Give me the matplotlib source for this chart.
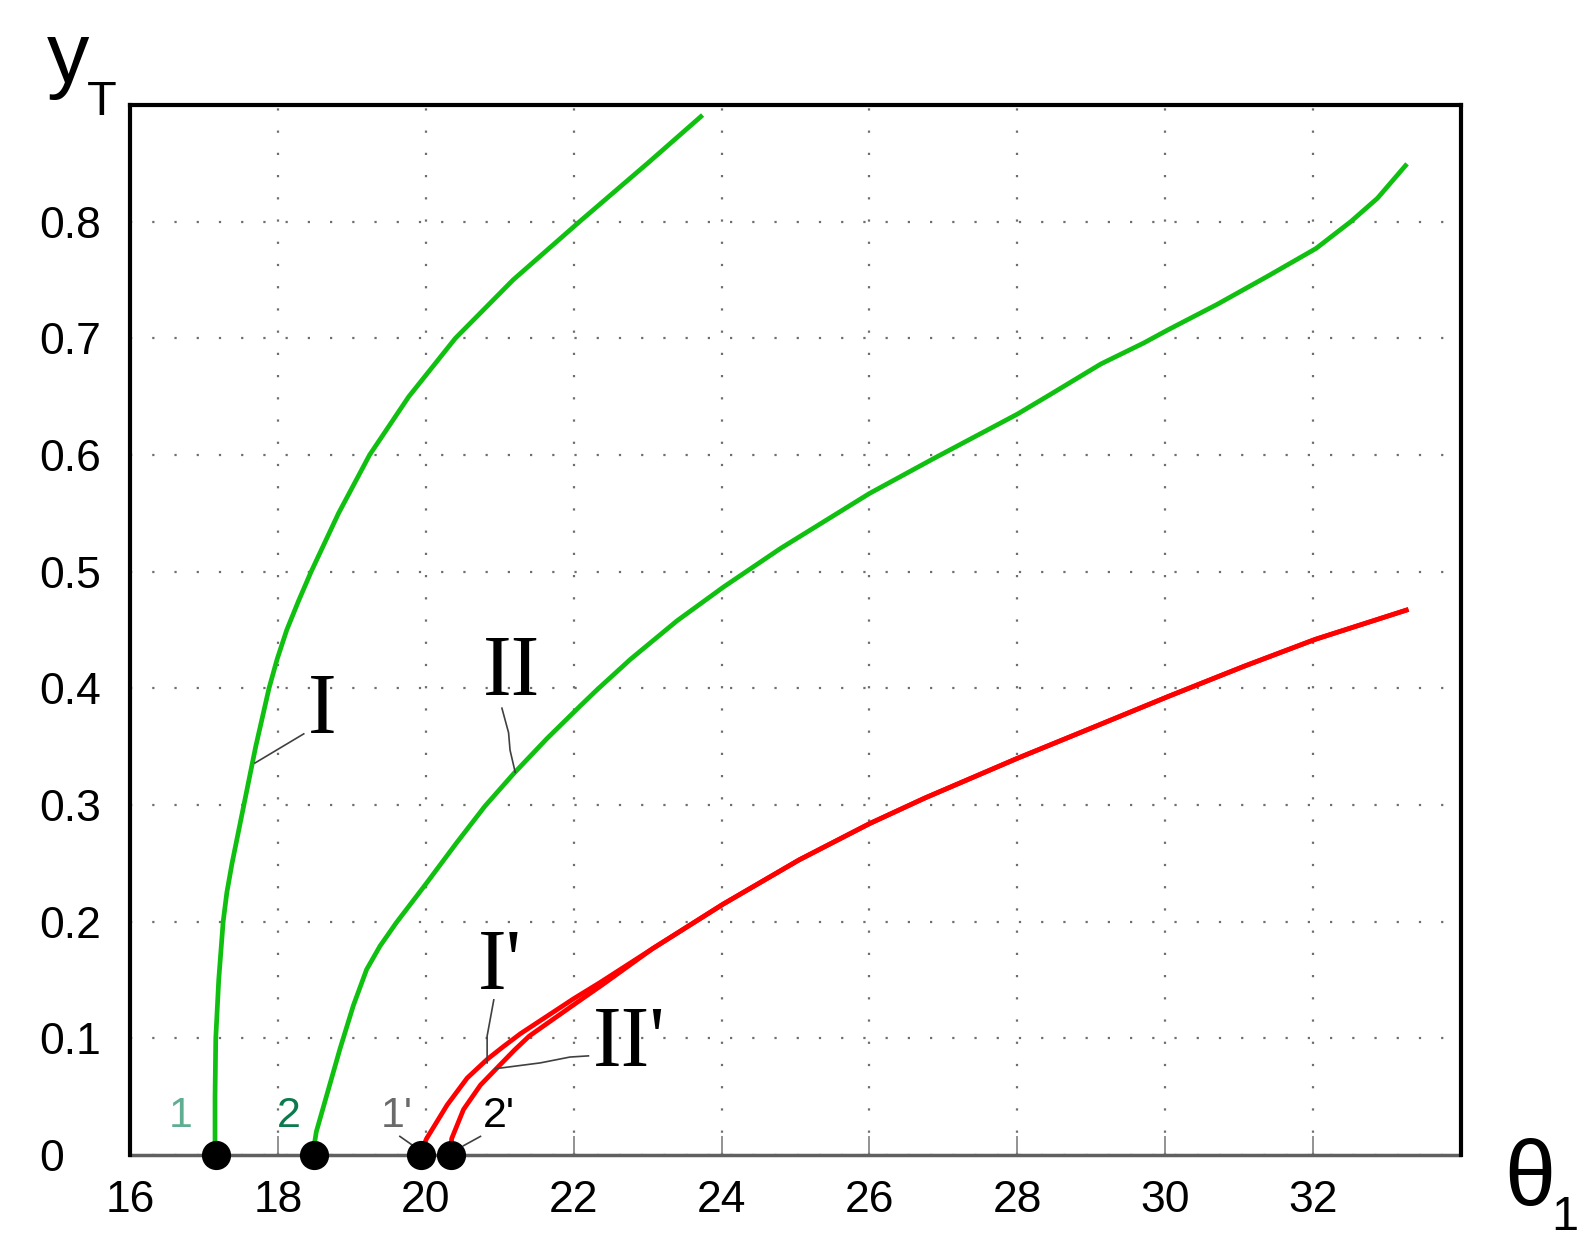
import matplotlib
matplotlib.use('Agg')
import matplotlib.pyplot as plt

# curve I (green)
I_x = [17.15, 17.15, 17.16, 17.20, 17.26, 17.31, 17.38, 17.46, 17.54, 17.62, 17.70, 17.79, 17.88,
       17.99, 18.12, 18.28, 18.45, 18.82, 19.24, 19.77, 20.40, 21.18, 22.08, 23.00, 23.72]
I_y = [0.000, 0.050, 0.100, 0.150, 0.200, 0.225, 0.250, 0.275, 0.300, 0.325, 0.350, 0.375, 0.400,
       0.425, 0.450, 0.475, 0.500, 0.550, 0.600, 0.650, 0.700, 0.750, 0.800, 0.850, 0.890]

# curve II (green)
II_x = [18.47, 18.52, 18.84, 19.02, 19.20, 19.38, 19.60, 20.01, 20.41, 20.80, 21.19, 21.64, 22.09, 22.32,
        22.77, 23.40, 24.03, 24.80, 26.00, 26.87, 28.00, 28.45, 29.13, 29.71, 30.03, 30.70, 31.38, 32.04,
        32.51, 32.87, 33.25]
II_y = [0.000, 0.020, 0.091, 0.128, 0.159, 0.179, 0.199, 0.233, 0.267, 0.299, 0.327, 0.357, 0.385, 0.399,
        0.425, 0.458, 0.487, 0.520, 0.567, 0.597, 0.635, 0.652, 0.678, 0.696, 0.707, 0.729, 0.753, 0.777,
        0.800, 0.820, 0.848]

# curves I' and II' (red)
Ip_x = [19.92, 20.01, 20.29, 20.56, 20.83, 21.05, 21.28, 22.00, 22.36, 23.07, 24.02, 25.05, 26.00,
        26.75, 28.00, 29.08, 30.04, 31.07, 32.03, 33.26]
Ip_y = [0.000, 0.014, 0.043, 0.066, 0.082, 0.093, 0.104, 0.134, 0.148, 0.177, 0.215, 0.253, 0.284,
        0.306, 0.340, 0.368, 0.393, 0.419, 0.442, 0.467]
IIp_x = [20.34, 20.35, 20.51, 20.74, 21.00, 21.20, 21.40, 22.05, 22.39, 23.07, 24.02, 25.05, 26.00,
         26.75, 28.00, 29.08, 30.04, 31.07, 32.03, 33.26]
IIp_y = [0.000, 0.014, 0.039, 0.060, 0.077, 0.090, 0.102, 0.131, 0.146, 0.177, 0.215, 0.253, 0.284,
         0.306, 0.340, 0.368, 0.393, 0.419, 0.442, 0.467]

# starting points on the axis
dot_x = [17.16, 18.49, 19.93, 20.34]
dot_y = [0, 0, 0, 0]
dot_names = ['1', '2', "1'", "2'"]
dot_name_x = [16.68, 18.15, 19.61, 20.99]
dot_name_colors = ['#5fae92', '#0b7a4c', '#6a6a6a', '#000000']

xticks = [16, 18, 20, 22, 24, 26, 28, 30, 32]
yticks = [0, 0.1, 0.2, 0.3, 0.4, 0.5, 0.6, 0.7, 0.8]
xtick_labels = ['16', '18', '20', '22', '24', '26', '28', '30', '32']
ytick_labels = ['0', '0.1', '0.2', '0.3', '0.4', '0.5', '0.6', '0.7', '0.8']

# curve names and their leader lines
roman_names = ['I', 'II', "I'", "II'"]
roman_pos = [(18.60, 0.362), (21.16, 0.394), (21.01, 0.142), (22.75, 0.076)]
leaders = [
    ([17.69, 18.35], [0.336, 0.361]),
    ([21.03, 21.12, 21.14, 21.21], [0.383, 0.362, 0.347, 0.328]),
    ([20.92, 20.83, 20.83], [0.133, 0.102, 0.079]),
    ([22.20, 21.95, 21.55, 20.94], [0.085, 0.084, 0.079, 0.074]),
    ([19.65, 19.83], [0.016, 0.008]),
    ([20.74, 20.51], [0.016, 0.008]),
]

green = '#10c010'
red = '#ff0000'

fig = plt.figure(figsize=(15.93, 12.57), dpi=100)
ax = fig.add_axes([0.0816, 0.0811, 0.8355, 0.8354])

ax.set_xlim(16, 34)
ax.set_ylim(0, 0.9)

ax.grid(True, color='#6e6e6e', linestyle=(0, (1, 9)), linewidth=1.6)
ax.set_axisbelow(True)

ax.plot(I_x, I_y, color=green, lw=3.4, zorder=3, solid_joinstyle='round')
ax.plot(II_x, II_y, color=green, lw=3.4, zorder=3, solid_joinstyle='round')
ax.plot(Ip_x, Ip_y, color=red, lw=3.4, zorder=3, solid_joinstyle='round')
ax.plot(IIp_x, IIp_y, color=red, lw=3.4, zorder=3, solid_joinstyle='round')

ax.plot(dot_x, dot_y, 'o', ms=20, color='k', clip_on=False, zorder=6)

for i in range(len(dot_names)):
    ax.text(dot_name_x[i], 0.024, dot_names[i], color=dot_name_colors[i],
            fontsize=31, family='Liberation Sans', ha='center', va='baseline', zorder=4)

for lx, ly in leaders:
    ax.plot(lx, ly, color='#404040', lw=1.2, zorder=4)

for name, (tx, ty) in zip(roman_names, roman_pos):
    ax.text(tx, ty, name, fontsize=62, family='Liberation Serif',
            ha='center', va='baseline', zorder=4)

# spines: solid frame, dotted bottom
for s in ['left', 'top', 'right']:
    ax.spines[s].set_linewidth(3)
    ax.spines[s].set_color('k')
ax.spines['bottom'].set_linestyle((0, (1, 1)))
ax.spines['bottom'].set_linewidth(2.5)
ax.spines['bottom'].set_color('#606060')
ax.spines['bottom'].set_zorder(2)

ax.set_xticks(xticks)
ax.set_xticklabels(xtick_labels, fontsize=32, family='Liberation Sans')
ax.set_yticks(yticks)
ax.set_yticklabels(ytick_labels, fontsize=32, family='Liberation Sans')
ax.tick_params(axis='x', direction='in', length=14, width=1.2, color='#808080', pad=18)
ax.tick_params(axis='y', length=0, pad=65.5)
for lab in ax.get_yticklabels():
    lab.set_horizontalalignment('left')

# axis names
fig.text(0.0427, 0.9348, 'y', fontsize=61, family='Liberation Sans', ha='center', va='baseline')
fig.text(0.0637, 0.9085, 'T', fontsize=35, family='Liberation Sans', ha='center', va='baseline')
fig.text(0.9605, 0.0413, '\u03b8', fontsize=66, family='Liberation Sans', ha='center', va='baseline')
fig.text(0.9825, 0.0215, '1', fontsize=35, family='Liberation Sans', ha='center', va='baseline')

plt.savefig('out.png', dpi=100)
plt.close()
